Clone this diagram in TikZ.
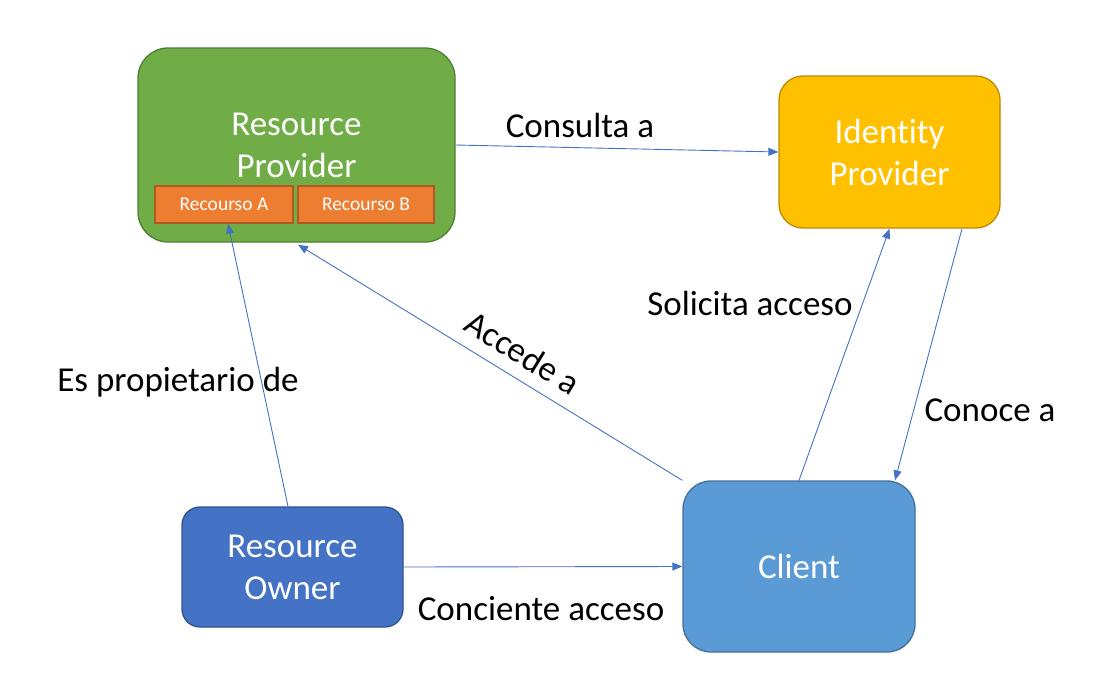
\documentclass[tikz,border=0pt]{standalone}
\usepackage{fontspec}
\setmainfont[Ligatures=NoCommon]{Carlito}
\usetikzlibrary{arrows.meta}
\definecolor{rpfill}{HTML}{70AD47}
\definecolor{rpline}{HTML}{507E32}
\definecolor{orfill}{HTML}{ED7D31}
\definecolor{orline}{HTML}{AE5A21}
\definecolor{idfill}{HTML}{FFC000}
\definecolor{idline}{HTML}{BC8C00}
\definecolor{rofill}{HTML}{4472C4}
\definecolor{roline}{HTML}{2F528F}
\definecolor{clfill}{HTML}{5B9BD5}
\definecolor{clline}{HTML}{41719C}
\definecolor{arr}{HTML}{4472C4}
\tikzset{
  bigbox/.style={draw, line width=1.3pt, align=center, text=white,
    font=\fontsize{35}{42}\selectfont, inner sep=0pt},
  resbox/.style={draw=orline, fill=orfill, line width=1.3pt, text=white,
    font=\fontsize{19.5}{22}\selectfont, inner sep=0pt, minimum height=37pt},
  lbl/.style={font=\fontsize{35}{40}\selectfont, text=black, inner sep=0pt},
  conn/.style={draw=arr, line width=0.9pt, -{Triangle[length=10pt,width=8pt]}}
}
\begin{document}
\begin{tikzpicture}[x=1pt,y=-1pt]
\useasboundingbox (0,0) rectangle (1095,680);
\node[bigbox, draw=rpline, fill=rpfill, rounded corners=30pt,
  minimum width=317pt, minimum height=194pt] (rp) at (296.5,145) {Resource\\Provider};
\node[resbox, minimum width=138pt] (recA) at (224,204.5) {Recourso A};
\node[resbox, minimum width=136pt] (recB) at (366,204.5) {Recourso B};
\node[bigbox, draw=idline, fill=idfill, rounded corners=24pt,
  minimum width=221pt, minimum height=152pt] (idp) at (889.5,152) {Identity\\Provider};
\node[bigbox, draw=roline, fill=rofill, rounded corners=18pt,
  minimum width=221pt, minimum height=120pt] (ro) at (292.5,567) {Resource\\Owner};
\node[bigbox, draw=clline, fill=clfill, rounded corners=28pt,
  minimum width=232pt, minimum height=171pt] (cl) at (799,566.5) {Client};

\draw[conn] (rp.east) -- (idp.west);
\draw[conn] (cl.north) -- (idp.south);
\draw[conn] ([xshift=72.5pt]idp.south) -- ([xshift=96pt]cl.north);
\draw[conn] (cl.north west) -- ([xshift=1.5pt,yshift=-2pt]rp.south);
\draw[conn] ([xshift=-4.5pt]ro.north) -- ([xshift=4pt]recA.south);
\draw[conn] (ro.east) -- (cl.west);

\node[lbl] (l1) at (580,125) {Consulta a};
\node[lbl] (l2) at (750,303) {Solicita acceso};
\node[lbl] (l3) at (990,410) {Conoce a};
\node[lbl, rotate=-31.6] (l4) at (523,353) {Accede a};
\node[lbl] (l5) at (178,382) {Es propietario de};
\node[lbl] (l6) at (541,609) {Conciente acceso};
\end{tikzpicture}
\end{document}
